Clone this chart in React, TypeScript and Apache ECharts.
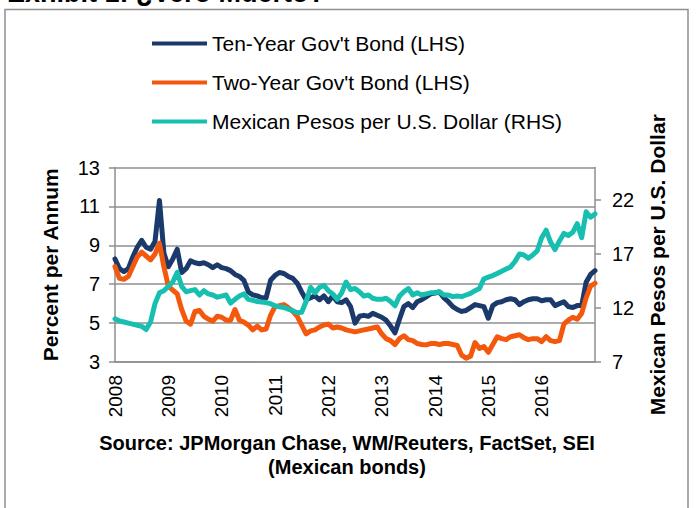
import React, { useEffect, useRef } from "react";
import * as echarts from "echarts";

// Monthly observations, Jan 2008 .. Jan 2017
const months: string[] = [];
for (let y = 2008; y <= 2017; y++) {
  for (let m = 1; m <= 12; m++) {
    if (y === 2017 && m > 1) break;
    months.push(`${y}-${String(m).padStart(2, "0")}`);
  }
}

const yearLabels = ["2008", "2009", "2010", "2011", "2012", "2013", "2014", "2015", "2016"];

const tenYear = [
  8.3, 7.8, 7.65, 7.8, 8.4, 8.9, 9.25, 8.9, 8.8, 9.2, 11.3, 8.6,
  7.9, 8.3, 8.8, 7.6, 7.8, 8.2, 8.1, 8.05, 8.1, 8.0, 7.85, 8.0,
  7.85, 7.8, 7.7, 7.5, 7.4, 7.2, 6.6, 6.45, 6.4, 6.3, 6.3, 7.2,
  7.45, 7.6, 7.55, 7.4, 7.3, 7.05, 6.6, 6.2, 6.3, 6.4, 6.2, 6.4,
  6.1, 6.4, 6.1, 6.05, 6.2, 5.85, 5.0, 5.35, 5.4, 5.35, 5.5, 5.4,
  5.3, 5.15, 4.85, 4.5, 5.2, 5.85, 6.0, 5.8, 6.1, 6.2, 6.35, 6.5,
  6.55, 6.6, 6.3, 6.1, 5.85, 5.7, 5.6, 5.65, 5.8, 5.95, 5.9, 5.85,
  5.25, 5.9, 6.05, 6.1, 6.2, 6.25, 6.2, 5.95, 6.1, 6.2, 6.25, 6.25,
  6.15, 6.2, 6.2, 5.9, 6.0, 6.1, 5.85, 5.8, 5.9, 5.9, 7.1, 7.5,
  7.7,
];

const twoYear = [
  7.9, 7.3, 7.25, 7.4, 7.9, 8.4, 8.65, 8.45, 8.25, 8.55, 9.1, 7.9,
  6.9, 6.7, 6.5, 5.7, 5.1, 4.95, 5.6, 5.65, 5.35, 5.2, 5.1, 5.35,
  5.3, 5.15, 5.15, 5.7, 5.15, 5.05, 4.9, 4.65, 4.85, 4.65, 4.7, 5.4,
  5.85, 5.9, 5.95, 5.8, 5.6, 5.35, 4.9, 4.45, 4.6, 4.65, 4.8, 4.9,
  4.95, 4.75, 4.8, 4.75, 4.65, 4.6, 4.55, 4.6, 4.65, 4.7, 4.75, 4.8,
  4.45, 4.2, 4.1, 3.9, 4.2, 4.35, 4.15, 4.1, 3.95, 3.9, 3.88, 3.95,
  3.95, 3.9, 3.95, 3.95, 3.9, 3.85, 3.35, 3.2, 3.3, 4.0, 3.7, 3.8,
  3.5, 3.9, 4.3, 4.2, 4.15, 4.3, 4.35, 4.4, 4.25, 4.15, 4.2, 4.2,
  4.05, 4.3, 4.1, 4.05, 4.1, 4.95, 5.15, 5.3, 5.2, 5.5, 6.3, 6.9,
  7.05,
];

const pesoPerUsd = [
  11.0, 10.8, 10.7, 10.6, 10.5, 10.4, 10.3, 10.0, 10.7, 12.4, 13.4, 13.6,
  14.0, 14.4, 15.3, 14.0, 13.5, 13.6, 13.7, 13.2, 13.6, 13.3, 13.2, 13.0,
  13.1, 13.2, 12.45, 12.8, 13.1, 13.3, 12.8, 12.7, 12.6, 12.55, 12.5, 12.4,
  12.2, 12.1, 12.05, 11.9, 11.75, 11.55, 11.6, 12.6, 13.9, 13.4, 13.9, 14.1,
  13.6, 13.3, 12.8, 13.4, 14.4, 13.7, 13.8, 13.5, 13.1, 13.2, 12.9, 12.8,
  12.8, 12.9, 12.6, 12.2, 13.1, 13.5, 13.8, 13.2, 13.4, 13.2, 13.3, 13.4,
  13.4, 13.5, 13.2, 13.2, 13.05, 13.1, 13.05, 13.2, 13.35, 13.6, 13.8, 14.7,
  14.85, 15.0, 15.2, 15.4, 15.6, 15.8, 16.3, 17.0, 16.9, 16.6, 16.9, 17.3,
  18.5, 19.2, 18.1, 17.4, 18.2, 18.9, 18.7, 19.0, 19.8, 18.5, 20.9, 20.4,
  20.7,
];

const leftTicks = [3, 13, 2];
const rightTickValues = [7, 12, 17, 22];

const FONT = "'Liberation Sans', Arial, sans-serif";
const GRAY = "#8f8f8f";
const C_TEN = "#1b3a6b";
const C_TWO = "#f4580d";
const C_PESO = "#17bfb0";
const LW = 5;

export default function App() {
  const ref = useRef<HTMLDivElement>(null);
  useEffect(() => {
    if (!ref.current) return;
    const chart = echarts.init(ref.current, null, { renderer: "svg" });
    chart.setOption({
      animation: false,
      backgroundColor: "#ffffff",
      textStyle: { fontFamily: FONT },
      grid: { left: 115, right: 102, top: 167.5, bottom: 146, containLabel: false },
      legend: {
        orient: "vertical",
        left: 152,
        top: 33,
        padding: 0,
        itemWidth: 55,
        itemHeight: 4,
        itemGap: 18,
        icon: "rect",
        textStyle: { fontSize: 21, color: "#000", fontFamily: FONT, lineHeight: 21 },
        data: [
          "Ten-Year Gov't Bond (LHS)",
          "Two-Year Gov't Bond (LHS)",
          "Mexican Pesos per U.S. Dollar (RHS)",
        ],
      },
      xAxis: {
        type: "category",
        data: months,
        boundaryGap: false,
        axisLine: { lineStyle: { color: GRAY, width: 1.5 } },
        axisTick: { show: false },
        axisLabel: {
          rotate: 90,
          margin: 13,
          fontSize: 19,
          color: "#000",
          fontFamily: FONT,
          interval: (i: number, v: string) =>
            v.endsWith("-01") && yearLabels.includes(v.slice(0, 4)),
          formatter: (v: string) => v.slice(0, 4),
        },
        splitLine: { show: false },
      },
      yAxis: [
        {
          type: "value",
          min: leftTicks[0],
          max: leftTicks[1],
          interval: leftTicks[2],
          position: "left",
          name: "Percent per Annum",
          nameLocation: "middle",
          nameGap: 54,
          nameTextStyle: { fontSize: 21, fontWeight: "bold", color: "#000", fontFamily: FONT },
          axisLine: { show: true, lineStyle: { color: GRAY, width: 1.5 } },
          axisTick: { show: true, length: 6, lineStyle: { color: GRAY, width: 1.5 } },
          axisLabel: { fontSize: 20, color: "#000", margin: 15, fontFamily: FONT },
          splitLine: { show: true, lineStyle: { color: GRAY, width: 1.5 } },
        },
        {
          type: "value",
          min: 7,
          max: 25,
          interval: 5,
          position: "right",
          name: "Mexican Pesos per U.S. Dollar",
          nameLocation: "middle",
          nameGap: 52,
          nameRotate: 90,
          nameTextStyle: { fontSize: 21, fontWeight: "bold", color: "#000", fontFamily: FONT },
          axisLine: { show: true, lineStyle: { color: GRAY, width: 1.5 } },
          axisTick: {
            show: true,
            length: 6,
            customValues: rightTickValues,
            lineStyle: { color: GRAY, width: 1.5 },
          },
          axisLabel: {
            fontSize: 20,
            color: "#000",
            margin: 17,
            fontFamily: FONT,
            customValues: rightTickValues,
          },
          splitLine: { show: false },
        },
      ],
      series: [
        {
          name: "Ten-Year Gov't Bond (LHS)",
          type: "line",
          yAxisIndex: 0,
          data: tenYear,
          showSymbol: false,
          color: C_TEN,
          lineStyle: { width: LW, color: C_TEN, join: "round", cap: "round" },
        },
        {
          name: "Two-Year Gov't Bond (LHS)",
          type: "line",
          yAxisIndex: 0,
          data: twoYear,
          showSymbol: false,
          color: C_TWO,
          lineStyle: { width: LW, color: C_TWO, join: "round", cap: "round" },
        },
        {
          name: "Mexican Pesos per U.S. Dollar (RHS)",
          type: "line",
          yAxisIndex: 1,
          data: pesoPerUsd,
          showSymbol: false,
          color: C_PESO,
          lineStyle: { width: LW, color: C_PESO, join: "round", cap: "round" },
        },
      ],
      graphic: [
        {
          type: "rect",
          shape: { x: 5, y: 9.5, width: 683, height: 520 },
          style: { fill: "none", stroke: GRAY, lineWidth: 1.5 },
          silent: true,
          z: -1,
        },
        {
          type: "text",
          x: 7,
          y: -21,
          style: {
            text: "Exhibit 1: ¿Vero Muerto?",
            font: `bold 27px ${FONT}`,
            fill: "#000",
          },
        },
        {
          type: "text",
          x: 347,
          y: 431,
          style: {
            text: "Source: JPMorgan Chase, WM/Reuters, FactSet, SEI\n(Mexican bonds)",
            font: `bold 20px ${FONT}`,
            fill: "#000",
            align: "center",
            verticalAlign: "top",
            lineHeight: 24,
          },
        },
      ],
    });
    return () => chart.dispose();
  }, []);
  return (
    <div
      ref={ref}
      style={{ position: "absolute", left: 0, top: 0, width: 697, height: 508 }}
    />
  );
}
